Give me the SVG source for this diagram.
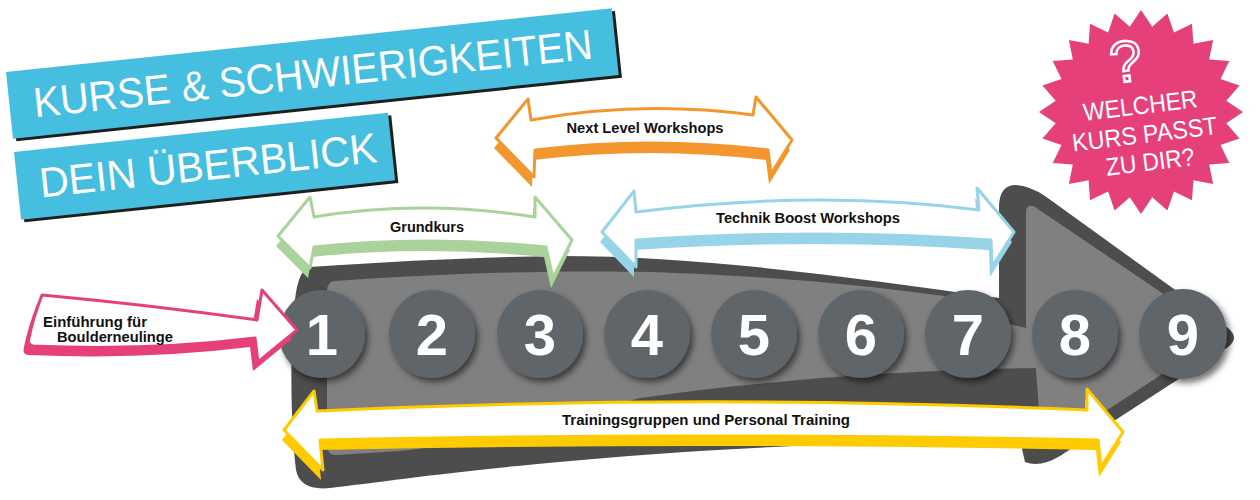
<svg xmlns="http://www.w3.org/2000/svg" width="1260" height="500" viewBox="0 0 1260 500">
<style>
.ban{fill:#45bee0}
.bsh{fill:#1e1e1c}
.btxt{font-family:"Liberation Sans",Arial,sans-serif;font-size:42px;fill:#fff}
.star-t{font-family:"Liberation Sans",Arial,sans-serif;font-size:25px;fill:#fff;text-anchor:middle}
.circ{fill:#5e6569;filter:url(#ds)}
.num{font-family:"Liberation Sans",Arial,sans-serif;font-weight:bold;font-size:58px;fill:#fff;text-anchor:middle}
.lab{font-family:"Liberation Sans",Arial,sans-serif;font-weight:bold;font-size:14px;fill:#111;text-anchor:middle}
.wh{fill:#fff;stroke-width:3;stroke-linejoin:round}
</style>
<defs>
<filter id="ds" x="-30%" y="-30%" width="160%" height="160%">
<feDropShadow dx="3" dy="4" stdDeviation="3" flood-color="#000" flood-opacity="0.55"/>
</filter>
</defs>
<rect width="1260" height="500" fill="#fff"/>

<g id="title1" transform="rotate(-6 6 72)">
<rect class="bsh" x="9" y="75" width="609" height="67"/>
<rect class="ban" x="6" y="72" width="609" height="67"/>
<text class="btxt" x="30" y="120" textLength="562" lengthAdjust="spacingAndGlyphs">KURSE &amp; SCHWIERIGKEITEN</text>
</g>
<g id="title2" transform="rotate(-6 14 152)">
<rect class="bsh" x="17" y="155" width="376" height="68"/>
<rect class="ban" x="14" y="152" width="376" height="68"/>
<text class="btxt" x="36" y="200" textLength="339" lengthAdjust="spacingAndGlyphs">DEIN ÜBERBLICK</text>
</g>

<g id="bigarrow">
<path fill="#4d4d4d" d="M310,267 C400,261 480,257 560,256 C700,256 850,277 999,298 L999,205 Q1000,185 1016,185 Q1030,186 1045,196 L1228,328 Q1240,338 1228,347 L1060,456 Q1040,468 1025,462 L1020,440 C900,440 700,448 548,463 C450,472 380,482 330,488 Q300,491 296,470 C290,420 290,340 295,300 Q298,270 310,267 Z"/>
<path fill="#808080" d="M334,281 C450,273 560,270 650,272 C800,277 900,289 999,304 L999,322 L1036,330 L1036,368 C900,370 760,381 640,398 C560,420 480,443 400,451 L336,455 Q327,455 327,445 L327,292 Q327,282 334,281 Z"/>
<path fill="#808080" d="M1026,213 Q1026,203 1035,207 L1196,316 Q1212,333 1196,352 L1066,437 Q1046,449 1041,436 L1036,370 L1026,326 Z"/>
</g>

<g id="star">
<polygon fill="#e6407b" points="1141,10 1152.2,26.7 1167.4,13.5 1173.9,32.5 1192,23.7 1193.4,43.8 1213.1,39.9 1209.2,59.6 1229.3,61 1220.5,79.1 1239.5,85.6 1226.3,100.8 1243,112 1226.3,123.2 1239.5,138.4 1220.5,144.9 1229.3,163 1209.2,164.4 1213.1,184.1 1193.4,180.2 1192,200.3 1173.9,191.5 1167.4,210.5 1152.2,197.3 1141,214 1129.8,197.3 1114.6,210.5 1108.1,191.5 1090,200.3 1088.6,180.2 1068.9,184.1 1072.8,164.4 1052.7,163 1061.5,144.9 1042.5,138.4 1055.7,123.2 1039,112 1055.7,100.8 1042.5,85.6 1061.5,79.1 1052.7,61 1072.8,59.6 1068.9,39.9 1088.6,43.8 1090,23.7 1108.1,32.5 1114.6,13.5 1129.8,26.7"/>
<g transform="rotate(-7 1142 120)">
<text x="1133" y="80" style="font-family:'Liberation Sans',Arial,sans-serif;font-size:58px;fill:#e6407b;stroke:#fff;stroke-width:2.5;text-anchor:middle">?</text>
<text class="star-t" x="1142" y="114" textLength="115" lengthAdjust="spacingAndGlyphs">WELCHER</text>
<text class="star-t" x="1143" y="143" textLength="146" lengthAdjust="spacingAndGlyphs">KURS PASST</text>
<text class="star-t" x="1145" y="171" textLength="89" lengthAdjust="spacingAndGlyphs">ZU DIR?</text>
</g>
</g>

<g id="circles">
<g id="c1"><ellipse class="circ" cx="322" cy="334" rx="43" ry="44"/><text class="num" x="322" y="355">1</text></g>
<g id="c2"><ellipse class="circ" cx="432" cy="334" rx="43" ry="44"/><text class="num" x="432" y="355">2</text></g>
<g id="c3"><ellipse class="circ" cx="540" cy="334" rx="43" ry="44"/><text class="num" x="540" y="355">3</text></g>
<g id="c4"><ellipse class="circ" cx="647" cy="334" rx="43" ry="44"/><text class="num" x="647" y="355">4</text></g>
<g id="c5"><ellipse class="circ" cx="754" cy="334" rx="43" ry="44"/><text class="num" x="754" y="355">5</text></g>
<g id="c6"><ellipse class="circ" cx="861" cy="334" rx="43" ry="44"/><text class="num" x="861" y="355">6</text></g>
<g id="c7"><ellipse class="circ" cx="968" cy="334" rx="43" ry="44"/><text class="num" x="968" y="355">7</text></g>
<g id="c8"><ellipse class="circ" cx="1075" cy="334" rx="43" ry="44"/><text class="num" x="1075" y="355">8</text></g>
<g id="c9"><ellipse class="circ" cx="1183" cy="334" rx="44" ry="45"/><text class="num" x="1183" y="355">9</text></g>
</g>

<g id="connectors">
<g id="arrow-next">
<path fill="#f2962d" transform="translate(-2,10)" d="M496,138 L528,99 L531,120 Q640,100 753,115 L756,97 L792,140 L771,174 L768,150 Q652,136 535,150 L534,177 Z"/>
<path class="wh" stroke="#f2962d" d="M496,138 L528,99 L531,120 Q640,100 753,115 L756,97 L792,140 L771,174 L768,150 Q652,136 535,150 L534,177 Z"/>
<text class="lab" x="645" y="133" textLength="157" lengthAdjust="spacingAndGlyphs">Next Level Workshops</text>
</g>
<g id="arrow-grund">
<path fill="#a9d39a" transform="translate(-2,10)" d="M278,236 L310,197 L314,217 Q421,199 535,217 L535,197 L572,240 L553,278 L546,247 Q425,235 314,247 L310,268 Z"/>
<path class="wh" stroke="#a9d39a" d="M278,236 L310,197 L314,217 Q421,199 535,217 L535,197 L572,240 L553,278 L546,247 Q425,235 314,247 L310,268 Z"/>
<text class="lab" x="427" y="232" textLength="74" lengthAdjust="spacingAndGlyphs">Grundkurs</text>
</g>
<g id="arrow-technik">
<path fill="#97d4ea" transform="translate(-2,10)" d="M602,232 L634,191 L636,212 Q820,189 979,210 L977,188 L1014,232 L992,267 L991,240 Q820,228 636,240 L636,267 Z"/>
<path class="wh" stroke="#97d4ea" d="M602,232 L634,191 L636,212 Q820,189 979,210 L977,188 L1014,232 L992,267 L991,240 Q820,228 636,240 L636,267 Z"/>
<text class="lab" x="808" y="223" textLength="184" lengthAdjust="spacingAndGlyphs">Technik Boost Workshops</text>
</g>
<g id="arrow-training">
<path fill="#fdcb00" transform="translate(-2,10)" d="M284,430 L314,391 L317,411 Q700,393 1087,410 L1087,389 L1123,432 L1101,467 L1098,440 Q710,432 320,440 L323,470 Z"/>
<path class="wh" stroke="#fdcb00" d="M284,430 L314,391 L317,411 Q700,393 1087,410 L1087,389 L1123,432 L1101,467 L1098,440 Q710,432 320,440 L323,470 Z"/>
<text class="lab" x="706" y="425" textLength="288" lengthAdjust="spacingAndGlyphs">Trainingsgruppen und Personal Training</text>
</g>
<g id="arrow-einf">
<path fill="#e6407b" transform="translate(-5,9)" d="M42,295 Q150,305 257,320 L262,290 L297,330 L258,362 L255,338 Q150,351 33,346 Q27,345 29,338 Q33,318 42,295 Z"/>
<path class="wh" stroke="#e6407b" d="M42,295 Q150,305 257,320 L262,290 L297,330 L258,362 L255,338 Q150,351 33,346 Q27,345 29,338 Q33,318 42,295 Z"/>
<text class="lab" x="43" y="327" style="text-anchor:start" textLength="104" lengthAdjust="spacingAndGlyphs">Einführung für</text>
<text class="lab" x="57" y="342" style="text-anchor:start" textLength="116" lengthAdjust="spacingAndGlyphs">Boulderneulinge</text>
</g>
</g>
</svg>
